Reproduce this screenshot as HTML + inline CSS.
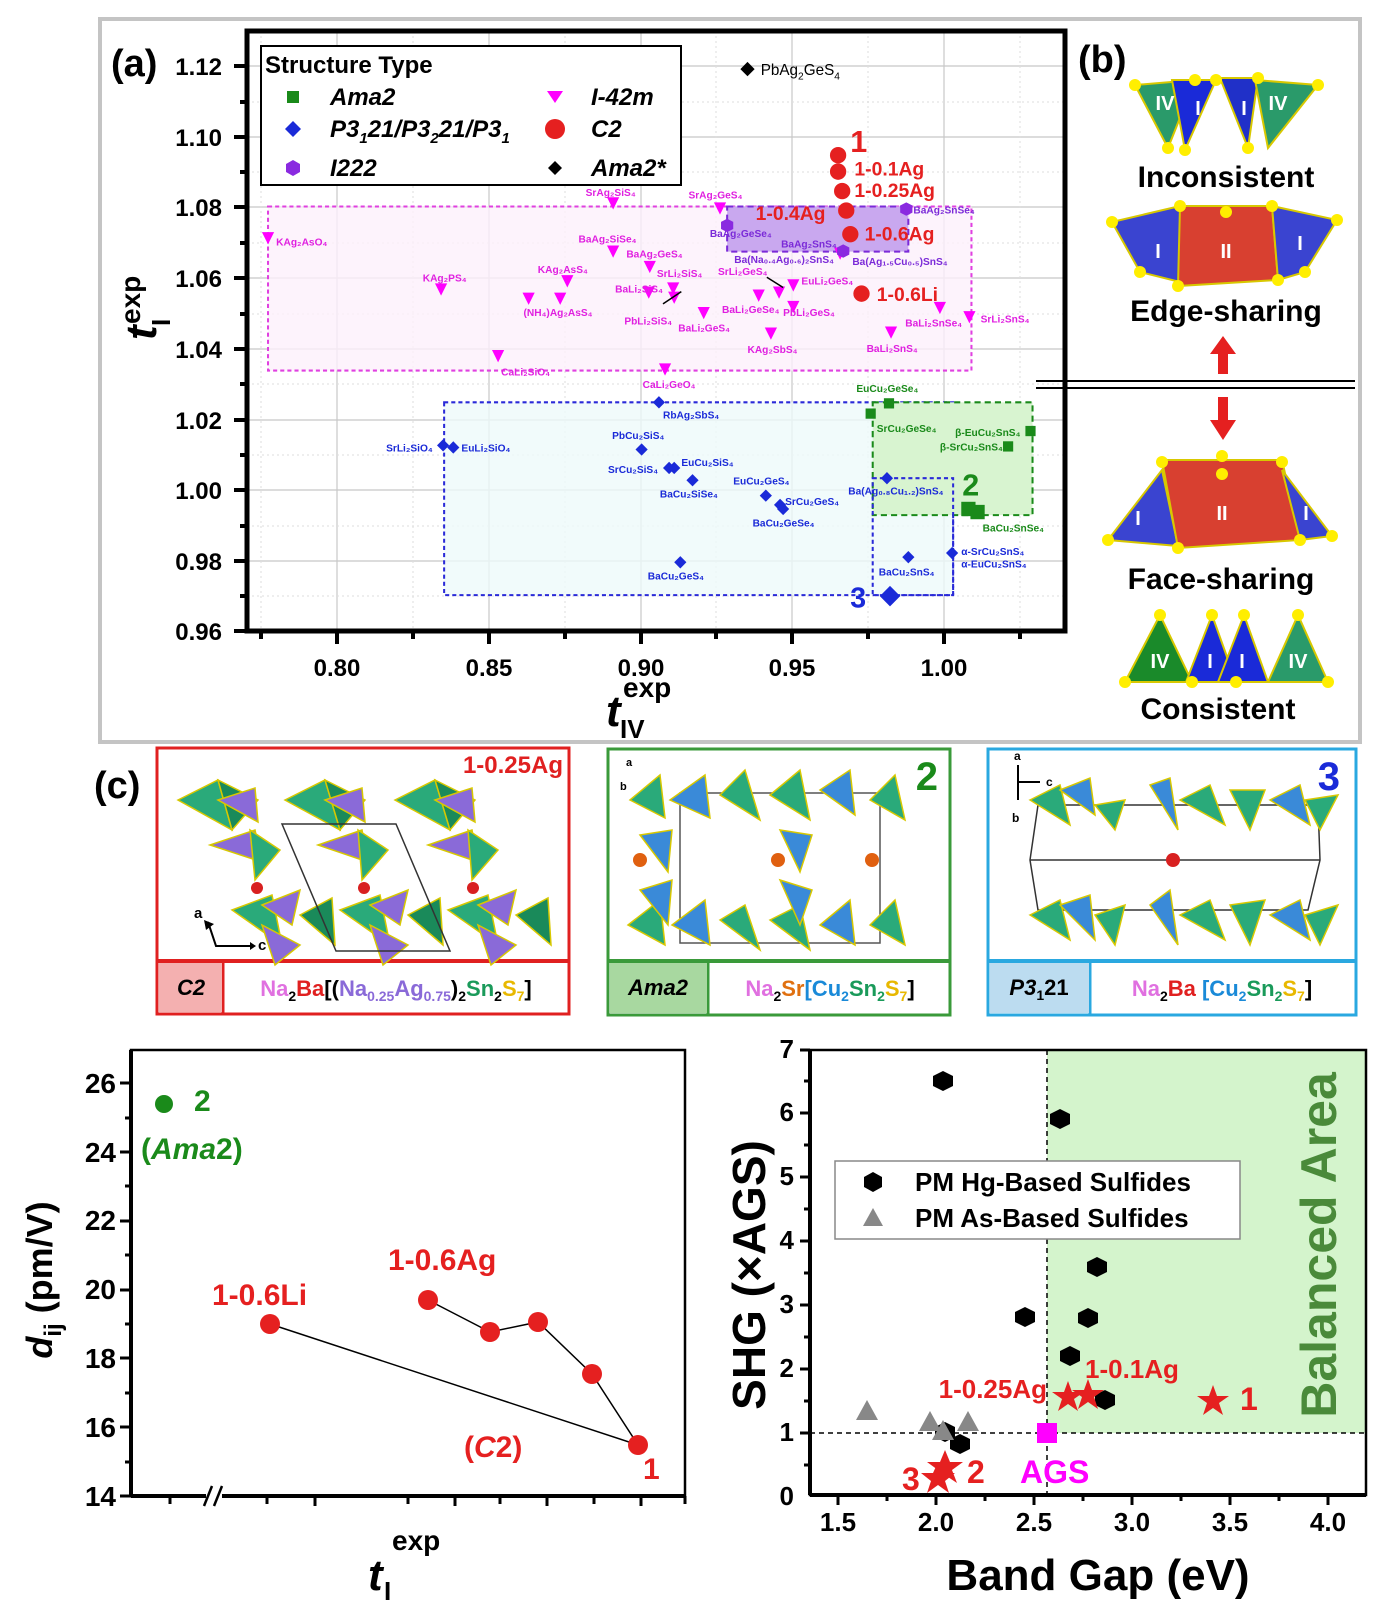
<!DOCTYPE html>
<html><head><meta charset="utf-8"><style>
html,body{margin:0;padding:0;background:#fff}
svg{display:block;font-family:"Liberation Sans",Arial,sans-serif}
</style></head><body>
<svg width="1386" height="1601" viewBox="0 0 1386 1601" xmlns="http://www.w3.org/2000/svg">
<rect x="100" y="19" width="1260" height="723" fill="#fff" stroke="#c4c4c4" stroke-width="4"/>
<g stroke="#c8c8c8" stroke-width="1.2">
<line x1="337" y1="31" x2="337" y2="631"/><line x1="489" y1="31" x2="489" y2="631"/><line x1="641" y1="31" x2="641" y2="631"/><line x1="792" y1="31" x2="792" y2="631"/><line x1="944" y1="31" x2="944" y2="631"/>
<line x1="247" y1="66" x2="1065" y2="66"/><line x1="247" y1="137" x2="1065" y2="137"/><line x1="247" y1="207" x2="1065" y2="207"/><line x1="247" y1="278" x2="1065" y2="278"/><line x1="247" y1="349" x2="1065" y2="349"/><line x1="247" y1="420" x2="1065" y2="420"/><line x1="247" y1="490" x2="1065" y2="490"/><line x1="247" y1="561" x2="1065" y2="561"/>
</g>
<g stroke="#ddd" stroke-width="1" stroke-dasharray="2,3">
<line x1="261" y1="31" x2="261" y2="631"/><line x1="413" y1="31" x2="413" y2="631"/><line x1="565" y1="31" x2="565" y2="631"/><line x1="716" y1="31" x2="716" y2="631"/><line x1="868" y1="31" x2="868" y2="631"/><line x1="1020" y1="31" x2="1020" y2="631"/>
<line x1="247" y1="102" x2="1065" y2="102"/><line x1="247" y1="172" x2="1065" y2="172"/><line x1="247" y1="243" x2="1065" y2="243"/><line x1="247" y1="314" x2="1065" y2="314"/><line x1="247" y1="384" x2="1065" y2="384"/><line x1="247" y1="455" x2="1065" y2="455"/><line x1="247" y1="526" x2="1065" y2="526"/><line x1="247" y1="596" x2="1065" y2="596"/>
</g>
<g transform="matrix(1.018,0,0,1.0254,1.3,-1.68)">
<rect x="262" y="203" width="691" height="160" fill="#fdf0fb" fill-opacity="0.8" stroke="#e040e0" stroke-width="2" stroke-dasharray="4,3"/>
<rect x="435" y="394" width="500" height="188" fill="#eefafa" fill-opacity="0.8" stroke="#2a2ad8" stroke-width="2" stroke-dasharray="4,3"/>
<rect x="856" y="394" width="157" height="110" fill="#d8f4d0" stroke="#1a8a1a" stroke-width="2" stroke-dasharray="6,4"/>
<rect x="856" y="468" width="79" height="114" fill="none" stroke="#2a2ad8" stroke-width="2" stroke-dasharray="4,3"/>
<rect x="713" y="203" width="178" height="44" fill="#c9a8ef" stroke="#7b2ad8" stroke-width="2" stroke-dasharray="6,4"/>
<g fill="#f0f">
<polygon points="256,228 268,228 262,240"/><polygon points="426,278 438,278 432,290"/><polygon points="550,270 562,270 556,282"/><polygon points="595,194 607,194 601,206"/><polygon points="595,241 607,241 601,253"/><polygon points="631,256 643,256 637,268"/><polygon points="630,281 642,281 636,293"/><polygon points="655,286 667,286 661,298"/><polygon points="654,277 666,277 660,289"/><polygon points="684,301 696,301 690,313"/><polygon points="700,199 712,199 706,211"/><polygon points="738,284 750,284 744,296"/><polygon points="750,321 762,321 756,333"/><polygon points="758,281 770,281 764,293"/><polygon points="772,274 784,274 778,286"/><polygon points="772,295 784,295 778,307"/><polygon points="916,296 928,296 922,308"/><polygon points="868,320 880,320 874,332"/><polygon points="482,343 494,343 488,355"/><polygon points="512,287 524,287 518,299"/><polygon points="646,356 658,356 652,368"/><polygon points="945,305 957,305 951,317"/><polygon points="543,287 555,287 549,299"/><polygon points="818,243 830,243 824,255"/>
</g>
<g font-size="10" font-weight="bold" fill="#e020e0">
<text x="270" y="241">KAg₂AsO₄</text><text x="414" y="276">KAg₂PS₄</text><text x="574" y="193">SrAg₂SiS₄</text><text x="567" y="238">BaAg₂SiSe₄</text><text x="614" y="253">BaAg₂GeS₄</text><text x="527" y="268">KAg₂AsS₄</text><text x="513" y="310">(NH₄)Ag₂AsS₄</text><text x="603" y="287">BaLi₂SiS₄</text><text x="644" y="272">SrLi₂SiS₄</text><text x="612" y="318">PbLi₂SiS₄</text><text x="665" y="325">BaLi₂GeS₄</text><text x="675" y="195">SrAg₂GeS₄</text><text x="704" y="270">SrLi₂GeS₄</text><text x="786" y="279">EuLi₂GeS₄</text><text x="708" y="307">BaLi₂GeSe₄</text><text x="768" y="310">PbLi₂GeS₄</text><text x="733" y="346">KAg₂SbS₄</text><text x="491" y="368">CaLi₂SiO₄</text><text x="630" y="380">CaLi₂GeO₄</text><text x="888" y="320">BaLi₂SnSe₄</text><text x="850" y="345">BaLi₂SnS₄</text><text x="962" y="316">SrLi₂SnS₄</text>
</g>
<g font-size="10" font-weight="bold" fill="#7b2ad8"><text x="696" y="233">BaAg₂GeSe₄</text><text x="766" y="243">BaAg₂SnS₄</text><text x="720" y="258">Ba(Na₀.₄Ag₀.₆)₂SnS₄</text><text x="836" y="260">Ba(Ag₁.₅Cu₀.₅)SnS₄</text><text x="896" y="210">BaAg₂SnSe₄</text></g>
<g fill="#8a2ae0"><polygon points="713,215 719,218 719,225 713,228 707,225 707,218"/><polygon points="827,240 833,243 833,250 827,253 821,250 821,243"/><polygon points="889,199 895,202 895,209 889,212 883,209 883,202"/></g>
<line x1="650" y1="298" x2="668" y2="286" stroke="#000" stroke-width="1.5"/><line x1="752" y1="272" x2="768" y2="282" stroke="#000" stroke-width="1.5"/>
<g fill="#e52020"><circle cx="822" cy="153" r="8"/><circle cx="822" cy="169" r="8"/><circle cx="826" cy="188" r="8"/><circle cx="830" cy="207" r="8"/><circle cx="834" cy="230" r="8"/><circle cx="845" cy="288" r="8"/></g>
<g fill="#e52020" font-weight="bold"><text x="834" y="150" font-size="30">1</text><text x="838" y="173" font-size="19">1-0.1Ag</text><text x="838" y="194" font-size="19">1-0.25Ag</text><text x="741" y="216" font-size="19">1-0.4Ag</text><text x="848" y="236" font-size="19">1-0.6Ag</text><text x="860" y="295" font-size="19">1-0.6Li</text></g>
<polygon points="733,62 740,69 733,76 726,69" fill="#000"/><text x="746" y="75" font-size="15">PbAg<tspan font-size="10" dy="4">2</tspan><tspan dy="-4">GeS</tspan><tspan font-size="10" dy="4">4</tspan></text>
<g fill="#1a2ad8">
<polygon points="646,388 652,394 646,400 640,394"/><polygon points="629,434 635,440 629,446 623,440"/><polygon points="434,430 440,436 434,442 428,436"/><polygon points="444,432 450,438 444,444 438,438"/><polygon points="656,452 662,458 656,464 650,458"/><polygon points="661,452 667,458 661,464 655,458"/><polygon points="679,464 685,470 679,476 673,470"/><polygon points="751,479 757,485 751,491 745,485"/><polygon points="765,488 771,494 765,500 759,494"/><polygon points="768,492 774,498 768,504 762,498"/><polygon points="667,544 673,550 667,556 661,550"/><polygon points="870,462 876,468 870,474 864,468"/><polygon points="891,539 897,545 891,551 885,545"/><polygon points="934,535 940,541 934,547 928,541"/><polygon points="873,573 883,583 873,593 863,583"/>
</g>
<g font-size="10" font-weight="bold" fill="#1a2ad8"><text x="650" y="410">RbAg₂SbS₄</text><text x="600" y="430">PbCu₂SiS₄</text><text x="378" y="442">SrLi₂SiO₄</text><text x="452" y="442">EuLi₂SiO₄</text><text x="668" y="456">EuCu₂SiS₄</text><text x="596" y="463">SrCu₂SiS₄</text><text x="647" y="487">BaCu₂SiSe₄</text><text x="719" y="474">EuCu₂GeS₄</text><text x="770" y="494">SrCu₂GeS₄</text><text x="738" y="515">BaCu₂GeSe₄</text><text x="832" y="484">Ba(Ag₀.₈Cu₁.₂)SnS₄</text><text x="635" y="567">BaCu₂GeS₄</text><text x="862" y="563">BaCu₂SnS₄</text><text x="943" y="543">α-SrCu₂SnS₄</text><text x="943" y="555">α-EuCu₂SnS₄</text></g>
<text x="834" y="594" font-size="28" font-weight="bold" fill="#1a2ad8">3</text>
<g fill="#1a8a1a"><rect x="849" y="400" width="10" height="10"/><rect x="867" y="390" width="10" height="10"/><rect x="984" y="432" width="10" height="10"/><rect x="1006" y="417" width="10" height="10"/><rect x="943" y="491" width="14" height="14"/><rect x="952" y="494" width="14" height="14"/></g>
<g font-size="10" font-weight="bold" fill="#1a8a1a"><text x="840" y="384">EuCu₂GeSe₄</text><text x="860" y="423">SrCu₂GeSe₄</text><text x="937" y="427">β-EuCu₂SnS₄</text><text x="922" y="441">β-SrCu₂SnS₄</text><text x="964" y="520">BaCu₂SnSe₄</text></g>
<text x="944" y="485" font-size="30" font-weight="bold" fill="#1a8a1a">2</text>
</g>
<rect x="247" y="31" width="818" height="600" fill="none" stroke="#000" stroke-width="5"/>
<g stroke="#000" stroke-width="4">
<line x1="337" y1="631" x2="337" y2="644"/><line x1="489" y1="631" x2="489" y2="644"/><line x1="641" y1="631" x2="641" y2="644"/><line x1="792" y1="631" x2="792" y2="644"/><line x1="944" y1="631" x2="944" y2="644"/>
<line x1="261" y1="631" x2="261" y2="639"/><line x1="413" y1="631" x2="413" y2="639"/><line x1="565" y1="631" x2="565" y2="639"/><line x1="716" y1="631" x2="716" y2="639"/><line x1="868" y1="631" x2="868" y2="639"/><line x1="1020" y1="631" x2="1020" y2="639"/>
<line x1="234" y1="66" x2="247" y2="66"/><line x1="234" y1="137" x2="247" y2="137"/><line x1="234" y1="207" x2="247" y2="207"/><line x1="234" y1="278" x2="247" y2="278"/><line x1="234" y1="349" x2="247" y2="349"/><line x1="234" y1="420" x2="247" y2="420"/><line x1="234" y1="490" x2="247" y2="490"/><line x1="234" y1="561" x2="247" y2="561"/><line x1="234" y1="631" x2="247" y2="631"/>
<line x1="240" y1="102" x2="247" y2="102"/><line x1="240" y1="172" x2="247" y2="172"/><line x1="240" y1="243" x2="247" y2="243"/><line x1="240" y1="314" x2="247" y2="314"/><line x1="240" y1="384" x2="247" y2="384"/><line x1="240" y1="455" x2="247" y2="455"/><line x1="240" y1="526" x2="247" y2="526"/><line x1="240" y1="596" x2="247" y2="596"/>
</g>
<g font-size="24" font-weight="bold" text-anchor="end">
<text x="222" y="75">1.12</text><text x="222" y="146">1.10</text><text x="222" y="216">1.08</text><text x="222" y="287">1.06</text><text x="222" y="358">1.04</text><text x="222" y="429">1.02</text><text x="222" y="499">1.00</text><text x="222" y="570">0.98</text><text x="222" y="640">0.96</text>
</g>
<g font-size="24" font-weight="bold" text-anchor="middle">
<text x="337" y="676">0.80</text><text x="489" y="676">0.85</text><text x="641" y="676">0.90</text><text x="792" y="676">0.95</text><text x="944" y="676">1.00</text>
</g>
<text x="111" y="76" font-size="38" font-weight="bold">(a)</text>
<text x="1078" y="72" font-size="38" font-weight="bold">(b)</text>
<text x="606" y="726" font-size="44" font-weight="bold" font-style="italic">t</text>
<text x="620" y="738" font-size="26" font-weight="bold">IV</text>
<text x="623" y="697" font-size="28" font-weight="bold">exp</text>
<g transform="translate(156,340) rotate(-90)"><text font-size="44" font-weight="bold" font-style="italic">t</text><text x="14" y="14" font-size="26" font-weight="bold">I</text><text x="16" y="-16" font-size="28" font-weight="bold">exp</text></g>
<rect x="261" y="46" width="420" height="139" fill="#fff" stroke="#000" stroke-width="2"/>
<g font-size="24" font-weight="bold">
<text x="265" y="73">Structure Type</text>
<rect x="287" y="91" width="12" height="12" fill="#1a8a1a"/><text x="330" y="105" font-style="italic">Ama2</text>
<polygon points="293,121 301,129 293,137 285,129" fill="#1a2ad8"/><text x="330" y="137" font-style="italic">P3<tspan font-size="15" dy="6">1</tspan><tspan dy="-6">21/P3</tspan><tspan font-size="15" dy="6">2</tspan><tspan dy="-6">21/P3</tspan><tspan font-size="15" dy="6">1</tspan></text>
<polygon points="293,160 300,164 300,172 293,176 286,172 286,164" fill="#8a2ae0"/><text x="330" y="176" font-style="italic">I222</text>
<polygon points="547,91 563,91 555,103" fill="#f0f"/><text x="591" y="105" font-style="italic">I-42m</text>
<circle cx="555" cy="129" r="10" fill="#e52020"/><text x="591" y="137" font-style="italic">C2</text>
<polygon points="555,161 562,168 555,175 548,168" fill="#000"/><text x="591" y="176" font-style="italic">Ama2*</text>
</g>
<g stroke="#d8c800" stroke-width="2">
<polygon points="1135,85 1195,80 1168,148" fill="#2a9a6a"/><polygon points="1172,80 1216,80 1185,150" fill="#1a2ad8"/><polygon points="1220,78 1258,78 1248,148" fill="#2030c8"/><polygon points="1255,80 1318,85 1268,148" fill="#2a9a6a"/>
<polygon points="1112,222 1180,206 1180,282 1140,272" fill="#3a44d0"/><polygon points="1180,206 1272,206 1278,280 1178,286" fill="#d84030"/><polygon points="1272,206 1337,220 1305,272 1278,280" fill="#3a44d0"/>
<polygon points="1108,540 1162,470 1178,546" fill="#3a44d0"/><polygon points="1162,460 1282,460 1300,540 1178,548" fill="#d84030"/><polygon points="1282,470 1332,536 1300,540" fill="#3a44d0"/>
<polygon points="1125,682 1160,615 1192,682" fill="#1a8a2a"/><polygon points="1186,682 1212,615 1236,682" fill="#1a2ad8"/><polygon points="1218,682 1244,615 1268,682" fill="#1a2ad8"/><polygon points="1268,682 1298,615 1328,682" fill="#2a9a6a"/>
</g>
<g fill="#ffee00">
<circle cx="1135" cy="85" r="6"/><circle cx="1195" cy="80" r="6"/><circle cx="1168" cy="148" r="6"/><circle cx="1216" cy="80" r="6"/><circle cx="1258" cy="78" r="6"/><circle cx="1318" cy="85" r="6"/><circle cx="1248" cy="148" r="6"/><circle cx="1185" cy="150" r="6"/>
<circle cx="1112" cy="222" r="6"/><circle cx="1180" cy="206" r="6"/><circle cx="1272" cy="206" r="6"/><circle cx="1337" cy="220" r="6"/><circle cx="1140" cy="272" r="6"/><circle cx="1178" cy="286" r="6"/><circle cx="1278" cy="280" r="6"/><circle cx="1305" cy="272" r="6"/><circle cx="1226" cy="212" r="6"/>
<circle cx="1108" cy="540" r="6"/><circle cx="1162" cy="462" r="6"/><circle cx="1282" cy="462" r="6"/><circle cx="1332" cy="536" r="6"/><circle cx="1178" cy="548" r="6"/><circle cx="1300" cy="540" r="6"/><circle cx="1222" cy="474" r="6"/><circle cx="1222" cy="456" r="6"/>
<circle cx="1125" cy="682" r="6"/><circle cx="1160" cy="615" r="6"/><circle cx="1192" cy="682" r="6"/><circle cx="1212" cy="615" r="6"/><circle cx="1244" cy="615" r="6"/><circle cx="1236" cy="682" r="6"/><circle cx="1298" cy="615" r="6"/><circle cx="1328" cy="682" r="6"/>
</g>
<g fill="#fff" font-size="20" font-weight="bold" text-anchor="middle">
<text x="1165" y="110">IV</text><text x="1198" y="115">I</text><text x="1244" y="115">I</text><text x="1278" y="110">IV</text>
<text x="1158" y="258">I</text><text x="1226" y="258">II</text><text x="1300" y="250">I</text>
<text x="1138" y="525">I</text><text x="1222" y="520">II</text><text x="1306" y="520">I</text>
<text x="1160" y="668">IV</text><text x="1210" y="668">I</text><text x="1242" y="668">I</text><text x="1298" y="668">IV</text>
</g>
<g font-size="30" font-weight="bold" text-anchor="middle">
<text x="1226" y="187">Inconsistent</text><text x="1226" y="321">Edge-sharing</text><text x="1221" y="589">Face-sharing</text><text x="1218" y="719">Consistent</text></g>
<g fill="#e52020"><polygon points="1223,336 1236,354 1228,354 1228,374 1218,374 1218,354 1210,354"/><polygon points="1223,440 1236,420 1228,420 1228,397 1218,397 1218,420 1210,420"/></g>
<line x1="1036" y1="381" x2="1355" y2="381" stroke="#000" stroke-width="2"/><line x1="1036" y1="388" x2="1355" y2="388" stroke="#000" stroke-width="2"/>
<text x="94" y="798" font-size="38" font-weight="bold">(c)</text>
<rect x="157" y="748" width="412" height="266" fill="#fff" stroke="#e02020" stroke-width="3"/>
<line x1="157" y1="961" x2="569" y2="961" stroke="#e02020" stroke-width="4"/><line x1="223" y1="961" x2="223" y2="1014" stroke="#e02020" stroke-width="3"/>
<rect x="159" y="963" width="63" height="49" fill="#f4b0b0"/>
<text x="191" y="995" font-size="22" font-weight="bold" font-style="italic" text-anchor="middle">C2</text>
<text x="396" y="996" font-size="22" font-weight="bold" text-anchor="middle"><tspan fill="#e070e0">Na</tspan><tspan font-size="14" dy="5">2</tspan><tspan fill="#e02020" dy="-5">Ba</tspan><tspan>[(</tspan><tspan fill="#8a6ad8">Na</tspan><tspan fill="#8a6ad8" font-size="14" dy="5">0.25</tspan><tspan fill="#8a6ad8" dy="-5">Ag</tspan><tspan fill="#8a6ad8" font-size="14" dy="5">0.75</tspan><tspan dy="-5">)</tspan><tspan font-size="14" dy="5">2</tspan><tspan fill="#1a9a5a" dy="-5">Sn</tspan><tspan font-size="14" dy="5">2</tspan><tspan fill="#e8b800" dy="-5">S</tspan><tspan fill="#e8b800" font-size="14" dy="5">7</tspan><tspan dy="-5">]</tspan></text>
<text x="563" y="773" font-size="24" font-weight="bold" fill="#e02020" text-anchor="end">1-0.25Ag</text>
<g stroke="#d8c800" stroke-width="1.5">
<polygon points="178,800 218,780 232,830" fill="#2aaa7a"/><polygon points="218,780 258,800 232,830" fill="#1a8a5a"/><polygon points="218,800 255,788 258,822" fill="#8a6ad8"/><polygon points="210,845 255,830 262,862" fill="#8a6ad8"/><polygon points="250,830 280,850 255,880" fill="#2aaa7a"/>
<polygon points="285,800 325,780 340,830" fill="#2aaa7a"/><polygon points="325,780 365,800 340,830" fill="#1a8a5a"/><polygon points="325,800 362,788 365,822" fill="#8a6ad8"/><polygon points="318,845 362,830 368,862" fill="#8a6ad8"/><polygon points="358,830 388,850 362,880" fill="#2aaa7a"/>
<polygon points="395,800 435,780 450,830" fill="#2aaa7a"/><polygon points="435,780 475,800 450,830" fill="#1a8a5a"/><polygon points="435,800 472,788 475,822" fill="#8a6ad8"/><polygon points="428,845 472,830 478,862" fill="#8a6ad8"/><polygon points="468,830 498,850 472,880" fill="#2aaa7a"/>
<polygon points="232,910 272,895 282,945" fill="#2aaa7a"/><polygon points="262,905 300,890 292,925" fill="#8a6ad8"/><polygon points="262,925 300,945 275,965" fill="#8a6ad8"/><polygon points="300,915 332,898 335,945" fill="#1a8a5a"/>
<polygon points="340,910 380,895 390,945" fill="#2aaa7a"/><polygon points="370,905 408,890 400,925" fill="#8a6ad8"/><polygon points="370,925 408,945 383,965" fill="#8a6ad8"/><polygon points="408,915 440,898 443,945" fill="#1a8a5a"/>
<polygon points="448,910 488,895 498,945" fill="#2aaa7a"/><polygon points="478,905 516,890 508,925" fill="#8a6ad8"/><polygon points="478,925 516,945 491,965" fill="#8a6ad8"/><polygon points="516,915 548,898 551,945" fill="#1a8a5a"/>
</g>
<polygon points="282,824 396,824 450,951 336,951" fill="none" stroke="#333" stroke-width="1.5"/>
<g fill="#d82020"><circle cx="257" cy="888" r="6"/><circle cx="364" cy="888" r="6"/><circle cx="473" cy="888" r="6"/></g>
<text x="194" y="918" font-size="15" font-weight="bold">a</text><text x="258" y="950" font-size="15" font-weight="bold">c</text>
<path d="M208,922 L216,946 L250,946" fill="none" stroke="#000" stroke-width="2"/>
<polygon points="204,920 214,924 206,930" fill="#000"/><polygon points="250,942 256,946 250,950" fill="#000"/>

<rect x="608" y="749" width="342" height="266" fill="#fff" stroke="#3a9a3a" stroke-width="3"/>
<line x1="608" y1="961" x2="950" y2="961" stroke="#3a9a3a" stroke-width="4"/><line x1="708" y1="961" x2="708" y2="1015" stroke="#3a9a3a" stroke-width="3"/>
<rect x="610" y="963" width="97" height="50" fill="#a8d8a0"/>
<text x="658" y="995" font-size="22" font-weight="bold" font-style="italic" text-anchor="middle">Ama2</text>
<text x="830" y="996" font-size="22" font-weight="bold" text-anchor="middle"><tspan fill="#e070e0">Na</tspan><tspan font-size="14" dy="5">2</tspan><tspan fill="#e07010" dy="-5">Sr</tspan><tspan fill="#1a8ad8">[Cu</tspan><tspan fill="#1a8ad8" font-size="14" dy="5">2</tspan><tspan fill="#1a9a5a" dy="-5">Sn</tspan><tspan fill="#1a9a5a" font-size="14" dy="5">2</tspan><tspan fill="#e8b800" dy="-5">S</tspan><tspan fill="#e8b800" font-size="14" dy="5">7</tspan><tspan dy="-5">]</tspan></text>
<text x="938" y="790" font-size="40" font-weight="bold" fill="#1a8a1a" text-anchor="end">2</text>
<rect x="680" y="793" width="200" height="150" fill="none" stroke="#555" stroke-width="1.5"/>
<g stroke="#d8c800" stroke-width="1.5" fill="#2aaa7a">
<polygon points="630,800 660,775 665,818"/><polygon points="670,800 705,775 710,818" fill="#3a8ad8"/><polygon points="720,795 745,770 760,820"/><polygon points="770,795 800,770 810,820"/><polygon points="820,790 850,770 855,815" fill="#3a8ad8"/><polygon points="870,800 895,775 905,820"/>
<polygon points="640,835 672,830 668,872" fill="#3a8ad8"/><polygon points="780,830 812,835 800,872" fill="#3a8ad8"/>
<polygon points="628,925 660,900 665,945"/><polygon points="672,925 705,900 710,945" fill="#3a8ad8"/><polygon points="720,920 745,905 760,950"/><polygon points="770,920 800,905 810,950"/><polygon points="820,925 850,900 855,945" fill="#3a8ad8"/><polygon points="870,925 895,900 905,945"/>
<polygon points="640,890 672,880 668,925" fill="#3a8ad8"/><polygon points="780,880 812,890 800,925" fill="#3a8ad8"/>
</g>
<g fill="#e06010"><circle cx="640" cy="860" r="7"/><circle cx="778" cy="860" r="7"/><circle cx="872" cy="860" r="7"/></g>
<text x="626" y="766" font-size="11" font-weight="bold">a</text><text x="620" y="790" font-size="11" font-weight="bold">b</text>

<rect x="988" y="749" width="368" height="266" fill="#fff" stroke="#2aa8e0" stroke-width="3"/>
<line x1="988" y1="961" x2="1356" y2="961" stroke="#2aa8e0" stroke-width="4"/><line x1="1090" y1="961" x2="1090" y2="1015" stroke="#2aa8e0" stroke-width="3"/>
<rect x="990" y="963" width="99" height="50" fill="#bcdcf0"/>
<text x="1039" y="995" font-size="22" font-weight="bold" font-style="italic" text-anchor="middle">P3<tspan font-size="14" dy="5" font-style="normal">1</tspan><tspan dy="-5" font-style="normal">21</tspan></text>
<text x="1222" y="996" font-size="22" font-weight="bold" text-anchor="middle"><tspan fill="#e070e0">Na</tspan><tspan font-size="14" dy="5">2</tspan><tspan fill="#e02020" dy="-5">Ba</tspan><tspan> </tspan><tspan fill="#1a8ad8">[Cu</tspan><tspan fill="#1a8ad8" font-size="14" dy="5">2</tspan><tspan fill="#1a9a5a" dy="-5">Sn</tspan><tspan fill="#1a9a5a" font-size="14" dy="5">2</tspan><tspan fill="#e8b800" dy="-5">S</tspan><tspan fill="#e8b800" font-size="14" dy="5">7</tspan><tspan dy="-5">]</tspan></text>
<text x="1340" y="790" font-size="40" font-weight="bold" fill="#1a2ad8" text-anchor="end">3</text>
<polygon points="1038,805 1318,805 1320,860 1308,910 1038,910 1030,860" fill="none" stroke="#333" stroke-width="1.5"/>
<line x1="1030" y1="860" x2="1320" y2="860" stroke="#333" stroke-width="1.5"/>
<g stroke="#d8c800" stroke-width="1.5" fill="#3a8ad8">
<polygon points="1030,800 1060,785 1070,825" fill="#2aaa7a"/><polygon points="1060,790 1090,778 1095,815"/><polygon points="1095,805 1125,800 1115,830" fill="#2aaa7a"/><polygon points="1150,785 1170,778 1178,830"/><polygon points="1180,800 1210,785 1225,825" fill="#2aaa7a"/><polygon points="1230,790 1265,790 1250,830" fill="#2aaa7a"/><polygon points="1270,800 1300,785 1310,825"/><polygon points="1305,800 1338,795 1320,830" fill="#2aaa7a"/>
<polygon points="1030,915 1060,900 1070,940" fill="#2aaa7a"/><polygon points="1060,905 1090,895 1095,940"/><polygon points="1095,915 1125,905 1115,945" fill="#2aaa7a"/><polygon points="1150,905 1170,890 1178,945"/><polygon points="1180,915 1210,900 1225,940" fill="#2aaa7a"/><polygon points="1230,905 1265,900 1250,945" fill="#2aaa7a"/><polygon points="1270,915 1300,900 1310,940"/><polygon points="1305,915 1338,905 1320,945" fill="#2aaa7a"/>
</g>
<circle cx="1173" cy="860" r="7" fill="#d82020"/>
<text x="1014" y="760" font-size="12" font-weight="bold">a</text><text x="1046" y="786" font-size="12" font-weight="bold">c</text><text x="1012" y="822" font-size="12" font-weight="bold">b</text>
<path d="M1018,765 L1018,800 M1018,782 L1040,782" stroke="#000" stroke-width="2"/>

<rect x="131" y="1050" width="554" height="446" fill="none" stroke="#000" stroke-width="2.5"/>
<line x1="131" y1="1050" x2="131" y2="1496" stroke="#000" stroke-width="4"/>
<line x1="131" y1="1496" x2="685" y2="1496" stroke="#000" stroke-width="4"/>
<rect x="206" y="1488" width="16" height="16" fill="#fff"/>
<line x1="204" y1="1506" x2="212" y2="1486" stroke="#000" stroke-width="2.5"/><line x1="214" y1="1506" x2="222" y2="1486" stroke="#000" stroke-width="2.5"/>
<g font-size="28" font-weight="bold" text-anchor="end">
<text x="116" y="1093">26</text><text x="116" y="1162">24</text><text x="116" y="1230">22</text><text x="116" y="1299">20</text><text x="116" y="1368">18</text><text x="116" y="1437">16</text><text x="116" y="1506">14</text></g>
<g stroke="#000" stroke-width="3">
<line x1="120" y1="1083" x2="131" y2="1083"/><line x1="120" y1="1152" x2="131" y2="1152"/><line x1="120" y1="1221" x2="131" y2="1221"/><line x1="120" y1="1290" x2="131" y2="1290"/><line x1="120" y1="1358" x2="131" y2="1358"/><line x1="120" y1="1427" x2="131" y2="1427"/><line x1="120" y1="1496" x2="131" y2="1496"/>
<line x1="125" y1="1118" x2="131" y2="1118"/><line x1="125" y1="1186" x2="131" y2="1186"/><line x1="125" y1="1255" x2="131" y2="1255"/><line x1="125" y1="1324" x2="131" y2="1324"/><line x1="125" y1="1393" x2="131" y2="1393"/><line x1="125" y1="1462" x2="131" y2="1462"/>
<line x1="170" y1="1496" x2="170" y2="1504"/><line x1="267" y1="1496" x2="267" y2="1504"/><line x1="315" y1="1496" x2="315" y2="1506"/><line x1="408" y1="1496" x2="408" y2="1504"/><line x1="455" y1="1496" x2="455" y2="1506"/><line x1="500" y1="1496" x2="500" y2="1504"/><line x1="547" y1="1496" x2="547" y2="1506"/><line x1="594" y1="1496" x2="594" y2="1504"/><line x1="641" y1="1496" x2="641" y2="1506"/><line x1="685" y1="1496" x2="685" y2="1504"/>
</g>
<g transform="translate(52,1280) rotate(-90)" font-size="36" font-weight="bold" text-anchor="middle"><text><tspan font-style="italic">d</tspan><tspan font-size="24" dy="9">ij</tspan><tspan dy="-9"> (pm/V)</tspan></text></g>
<text x="368" y="1590" font-size="44" font-weight="bold" font-style="italic">t</text>
<text x="384" y="1600" font-size="26" font-weight="bold">I</text>
<text x="392" y="1550" font-size="28" font-weight="bold">exp</text>
<polyline points="270,1324 638,1445" fill="none" stroke="#000" stroke-width="1.5"/>
<polyline points="428,1300 490,1332 538,1322 592,1374 638,1445" fill="none" stroke="#000" stroke-width="1.5"/>
<circle cx="164" cy="1104" r="9" fill="#1a8a1a"/>
<g fill="#e52020"><circle cx="270" cy="1324" r="10"/><circle cx="428" cy="1300" r="10"/><circle cx="490" cy="1332" r="10"/><circle cx="538" cy="1322" r="10"/><circle cx="592" cy="1374" r="10"/><circle cx="638" cy="1445" r="10"/></g>
<g font-size="30" font-weight="bold" fill="#1a8a1a"><text x="194" y="1111">2</text><text x="141" y="1159">(<tspan font-style="italic">Ama</tspan>2)</text></g>
<g font-size="30" font-weight="bold" fill="#e52020"><text x="212" y="1305">1-0.6Li</text><text x="388" y="1270">1-0.6Ag</text><text x="464" y="1457">(<tspan font-style="italic">C</tspan>2)</text><text x="643" y="1479">1</text></g>

<rect x="1047" y="1050" width="319" height="383" fill="#d4f4cc"/>
<line x1="1047" y1="1050" x2="1047" y2="1495" stroke="#000" stroke-width="1.5" stroke-dasharray="5,4"/>
<line x1="810" y1="1433" x2="1366" y2="1433" stroke="#000" stroke-width="1.5" stroke-dasharray="5,4"/>
<rect x="810" y="1050" width="556" height="445" fill="none" stroke="#000" stroke-width="2.5"/>
<line x1="810" y1="1050" x2="810" y2="1495" stroke="#000" stroke-width="4"/><line x1="810" y1="1495" x2="1366" y2="1495" stroke="#000" stroke-width="4"/>
<g font-size="26" font-weight="bold" text-anchor="end">
<text x="794" y="1505">0</text><text x="794" y="1441">1</text><text x="794" y="1377">2</text><text x="794" y="1313">3</text><text x="794" y="1249">4</text><text x="794" y="1185">5</text><text x="794" y="1121">6</text><text x="794" y="1058">7</text></g>
<g font-size="26" font-weight="bold" text-anchor="middle">
<text x="838" y="1531">1.5</text><text x="936" y="1531">2.0</text><text x="1034" y="1531">2.5</text><text x="1132" y="1531">3.0</text><text x="1230" y="1531">3.5</text><text x="1328" y="1531">4.0</text></g>
<g stroke="#000" stroke-width="3">
<line x1="838" y1="1495" x2="838" y2="1505"/><line x1="936" y1="1495" x2="936" y2="1505"/><line x1="1034" y1="1495" x2="1034" y2="1505"/><line x1="1132" y1="1495" x2="1132" y2="1505"/><line x1="1230" y1="1495" x2="1230" y2="1505"/><line x1="1328" y1="1495" x2="1328" y2="1505"/>
<line x1="887" y1="1495" x2="887" y2="1501"/><line x1="985" y1="1495" x2="985" y2="1501"/><line x1="1083" y1="1495" x2="1083" y2="1501"/><line x1="1181" y1="1495" x2="1181" y2="1501"/><line x1="1279" y1="1495" x2="1279" y2="1501"/>
<line x1="800" y1="1433" x2="810" y2="1433"/><line x1="800" y1="1369" x2="810" y2="1369"/><line x1="800" y1="1305" x2="810" y2="1305"/><line x1="800" y1="1241" x2="810" y2="1241"/><line x1="800" y1="1177" x2="810" y2="1177"/><line x1="800" y1="1113" x2="810" y2="1113"/><line x1="800" y1="1050" x2="810" y2="1050"/>
<line x1="804" y1="1465" x2="810" y2="1465"/><line x1="804" y1="1401" x2="810" y2="1401"/><line x1="804" y1="1337" x2="810" y2="1337"/><line x1="804" y1="1273" x2="810" y2="1273"/><line x1="804" y1="1209" x2="810" y2="1209"/><line x1="804" y1="1145" x2="810" y2="1145"/><line x1="804" y1="1081" x2="810" y2="1081"/>
</g>
<text x="1098" y="1590" font-size="44" font-weight="bold" text-anchor="middle">Band Gap (eV)</text>
<g transform="translate(765,1275) rotate(-90)"><text font-size="46" font-weight="bold" text-anchor="middle">SHG (×AGS)</text></g>
<g transform="translate(1336,1245) rotate(-90)"><text font-size="50" font-weight="bold" fill="#4a8a3a" text-anchor="middle">Balanced Area</text></g>
<rect x="835" y="1161" width="405" height="78" fill="#fff" stroke="#888" stroke-width="1.5"/>
<polygon points="873,1172 882,1177 882,1187 873,1192 864,1187 864,1177" fill="#000"/>
<polygon points="863,1226 883,1226 873,1208" fill="#888"/>
<g font-size="26" font-weight="bold"><text x="915" y="1191">PM Hg-Based Sulfides</text><text x="915" y="1227">PM As-Based Sulfides</text></g>
<g fill="#000">
<polygon points="943,1071 953,1076 953,1086 943,1091 933,1086 933,1076"/>
<polygon points="1060,1109 1070,1114 1070,1124 1060,1129 1050,1124 1050,1114"/>
<polygon points="1097,1257 1107,1262 1107,1272 1097,1277 1087,1272 1087,1262"/>
<polygon points="1025,1307 1035,1312 1035,1322 1025,1327 1015,1322 1015,1312"/>
<polygon points="1088,1308 1098,1313 1098,1323 1088,1328 1078,1323 1078,1313"/>
<polygon points="1070,1346 1080,1351 1080,1361 1070,1366 1060,1361 1060,1351"/>
<polygon points="1105,1390 1115,1395 1115,1405 1105,1410 1095,1405 1095,1395"/>
<polygon points="945,1422 955,1427 955,1437 945,1442 935,1437 935,1427"/>
<polygon points="960,1434 970,1439 970,1449 960,1454 950,1449 950,1439"/>
</g>
<g fill="#888"><polygon points="856,1420 878,1420 867,1400"/><polygon points="919,1431 941,1431 930,1411"/><polygon points="932,1440 954,1440 943,1420"/><polygon points="957,1431 979,1431 968,1411"/></g>
<rect x="1037" y="1423" width="20" height="20" fill="#f0f"/>
<g fill="#e52020">
<polygon points="1068,1381 1072,1392 1084,1392 1074,1399 1078,1411 1068,1404 1058,1411 1062,1399 1052,1392 1064,1392"/>
<polygon points="1088,1379 1092,1390 1104,1390 1094,1397 1098,1409 1088,1402 1078,1409 1082,1397 1072,1390 1084,1390"/>
<polygon points="1213,1385 1217,1396 1229,1396 1219,1403 1223,1415 1213,1408 1203,1415 1207,1403 1197,1396 1209,1396"/>
<polygon points="945,1450 950,1462 963,1462 952,1470 957,1483 945,1475 933,1483 938,1470 927,1462 940,1462"/>
<polygon points="938,1462 943,1473 955,1473 945,1481 949,1493 938,1485 927,1493 931,1481 921,1473 933,1473"/>
</g>
<g font-size="26" font-weight="bold" fill="#e52020"><text x="1047" y="1398" text-anchor="end">1-0.25Ag</text><text x="1085" y="1378">1-0.1Ag</text><text x="1240" y="1410" font-size="32">1</text><text x="967" y="1483" font-size="32">2</text><text x="902" y="1490" font-size="32">3</text></g>
<text x="1020" y="1483" font-size="32" font-weight="bold" fill="#f0f">AGS</text>
</svg>
</body></html>
